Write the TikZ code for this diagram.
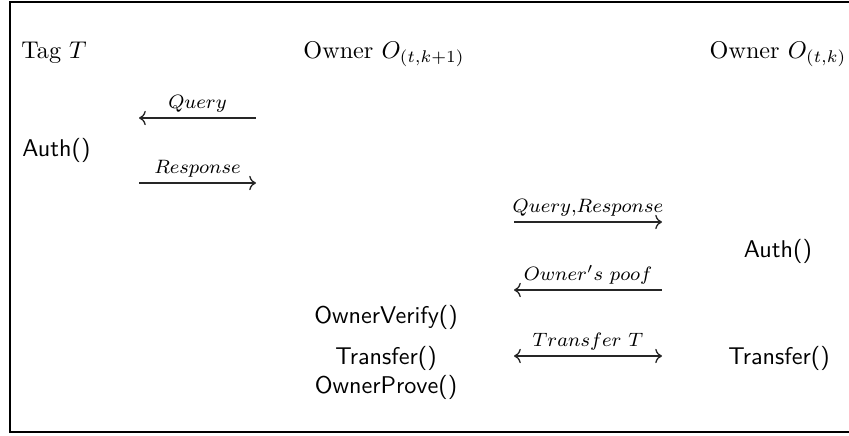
\documentclass[tikz,border=0pt]{standalone}
\usetikzlibrary{arrows.meta}
\begin{document}
\begin{tikzpicture}[x=0.01452cm,y=-0.01452cm,
  hdr/.style={inner sep=0pt, font=\normalsize},
  fn/.style={inner sep=0pt, font=\sffamily},
  msg/.style={line width=0.55pt, color=black!85},
  lbl/.style={inner sep=0pt, above=2pt, font=\footnotesize, text=black}]
\useasboundingbox (0,0) rectangle (849,435);
\draw[line width=0.5pt] (10,2) rectangle (880,432);
% headers
\node[hdr, anchor=base west] (tag) at (21,58) {Tag $T$};
\node[hdr, anchor=base] (own1) at (384,58) {Owner $O_{(t,k+1)}$};
\node[hdr, anchor=base] (own0) at (778,58) {Owner $O_{(t,k)}$};
% functions
\node[fn, anchor=base west] (auth1) at (22,156) {Auth()};
\node[fn, anchor=base] (auth2) at (778,257) {Auth()};
\node[fn, anchor=base] (verify) at (386,323) {OwnerVerify()};
\node[fn, anchor=base] (trans1) at (386,364) {Transfer()};
\node[fn, anchor=base] (prove) at (386,393) {OwnerProve()};
\node[fn, anchor=base] (trans2) at (779,364) {Transfer()};
% arrow ends
\coordinate (q1) at (139,118); \coordinate (q2) at (256,118);
\coordinate (r1) at (139,183); \coordinate (r2) at (256,183);
\coordinate (qr1) at (514,222); \coordinate (qr2) at (662,222);
\coordinate (p1) at (514,290); \coordinate (p2) at (662,290);
\coordinate (t1) at (514,356); \coordinate (t2) at (662,356);
% messages
\draw[msg,{To}-] (q1) -- node[lbl] {$Query$} (q2);
\draw[msg,-{To}] (r1) -- node[lbl] {$Response$} (r2);
\draw[msg,-{To}] (qr1) -- node[lbl] {$Query{,}Response$} (qr2);
\draw[msg,{To}-] (p1) -- node[lbl] {$Owner's\ poof$} (p2);
\draw[msg,{To}-{To}] (t1) -- node[lbl] {$Transfer\ T$} (t2);
\end{tikzpicture}
\end{document}
